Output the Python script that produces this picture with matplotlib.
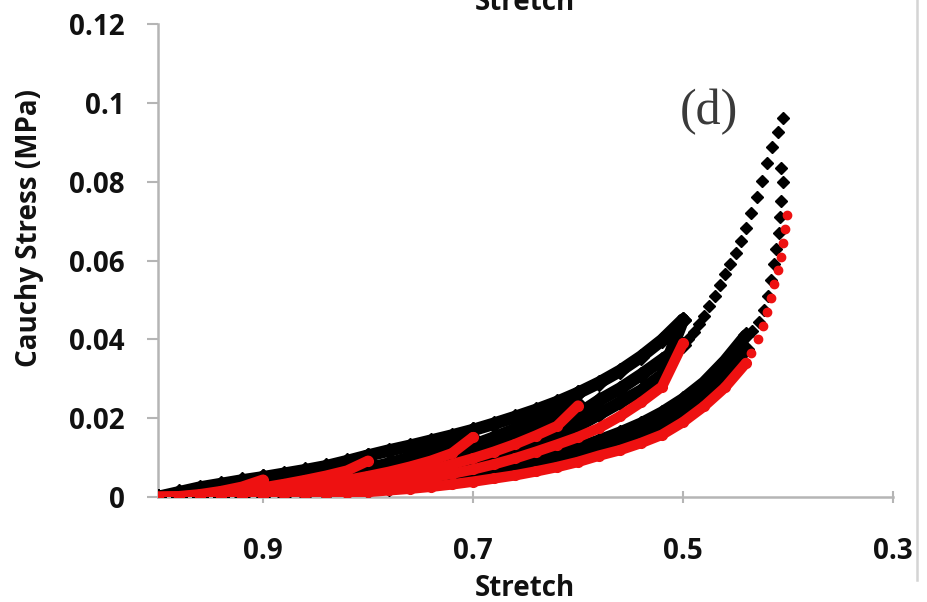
import matplotlib
matplotlib.use('Agg')
import matplotlib.pyplot as plt
from matplotlib.lines import Line2D

plt.rcParams['font.family'] = ['Open Sans', 'DejaVu Sans']
plt.rcParams['font.weight'] = 'bold'

# stretch of the recorded points, from the unloaded state down to 0.40
stretch = [1.00, 0.98, 0.96, 0.94, 0.92, 0.90, 0.88, 0.86, 0.84, 0.82,
           0.80, 0.78, 0.76, 0.74, 0.72, 0.70, 0.68, 0.66, 0.64, 0.62,
           0.60, 0.58, 0.56, 0.54, 0.52, 0.50, 0.48, 0.46, 0.44, 0.42, 0.40]

# experiment (black): primary loading curve up to stretch 0.5
load_env = [0.0000, 0.0012, 0.0024, 0.0033, 0.0042, 0.0050, 0.0059, 0.0068, 0.0078, 0.0091,
            0.0105, 0.0118, 0.0130, 0.0143, 0.0156, 0.0170, 0.0186, 0.0203, 0.0221, 0.0241,
            0.0264, 0.0290, 0.0320, 0.0356, 0.0398, 0.0450]

# last loading past 0.5 (recorded every 0.005)
tail_stretch = [0.500, 0.495, 0.490, 0.485, 0.480, 0.475, 0.470, 0.465, 0.460, 0.455,
                0.450, 0.445, 0.440, 0.435, 0.430, 0.425, 0.420, 0.415, 0.410, 0.405]
tail_stress = [0.0385, 0.0400, 0.0418, 0.0438, 0.0460, 0.0485, 0.0510, 0.0537, 0.0565, 0.0592,
               0.0620, 0.0650, 0.0683, 0.0720, 0.0760, 0.0803, 0.0848, 0.0888, 0.0927, 0.0962]

# reloading paths, listed from stretch 1.0 up to the previous peak
reload_2 = [0.0000, 0.0007, 0.0016, 0.0027, 0.0037, 0.0044]
reload_3 = [0.0000, 0.0004, 0.0010, 0.0018, 0.0027, 0.0037, 0.0047, 0.0058, 0.0070, 0.0084,
            0.0094]
reload_4 = [0.0000, 0.0002, 0.0005, 0.0010, 0.0016, 0.0023, 0.0031, 0.0039, 0.0049, 0.0060,
            0.0072, 0.0085, 0.0100, 0.0117, 0.0135, 0.0150]
reload_5 = [0.0000, 0.0002, 0.0004, 0.0007, 0.0011, 0.0016, 0.0022, 0.0029, 0.0037, 0.0046,
            0.0057, 0.0069, 0.0082, 0.0097, 0.0113, 0.0131, 0.0151, 0.0172, 0.0196, 0.0222,
            0.0235]
reload_6 = [0.0000, 0.0001, 0.0002, 0.0003, 0.0006, 0.0009, 0.0013, 0.0018, 0.0024, 0.0031,
            0.0038, 0.0047, 0.0057, 0.0068, 0.0081, 0.0096, 0.0112, 0.0131, 0.0153, 0.0178,
            0.0210, 0.0245, 0.0275, 0.0310, 0.0348, 0.0385]

# unloading paths (black), listed from stretch 1.0 up to the peak
unload_1 = [0.0000, 0.0004, 0.0011, 0.0021, 0.0033, 0.0050]
unload_2 = [0.0000, 0.0003, 0.0008, 0.0014, 0.0022, 0.0031, 0.0041, 0.0052, 0.0064, 0.0078,
            0.0105]
unload_3 = [0.0000, 0.0001, 0.0004, 0.0008, 0.0013, 0.0019, 0.0025, 0.0033, 0.0042, 0.0052,
            0.0063, 0.0075, 0.0089, 0.0105, 0.0125, 0.0170]
unload_4 = [0.0000, 0.0001, 0.0002, 0.0005, 0.0008, 0.0012, 0.0017, 0.0023, 0.0030, 0.0038,
            0.0047, 0.0057, 0.0069, 0.0082, 0.0097, 0.0114, 0.0133, 0.0154, 0.0178, 0.0205,
            0.0264]
unload_5 = [0.0000, 0.0000, 0.0001, 0.0003, 0.0005, 0.0008, 0.0011, 0.0015, 0.0020, 0.0026,
            0.0032, 0.0040, 0.0048, 0.0058, 0.0069, 0.0082, 0.0096, 0.0113, 0.0132, 0.0154,
            0.0180, 0.0210, 0.0240, 0.0270, 0.0310, 0.0450]
unload_6 = [0.0000, 0.0000, 0.0001, 0.0002, 0.0004, 0.0006, 0.0008, 0.0011, 0.0014, 0.0018,
            0.0022, 0.0028, 0.0034, 0.0041, 0.0049, 0.0058, 0.0068, 0.0079, 0.0092, 0.0107,
            0.0124, 0.0143, 0.0163, 0.0186, 0.0214, 0.0248, 0.0290, 0.0345, 0.0410]
# repeated unloading from stretch 0.4
unload_6b = [0.0000, 0.0000, 0.0000, 0.0001, 0.0003, 0.0004, 0.0006, 0.0008, 0.0010, 0.0014,
             0.0017, 0.0022, 0.0027, 0.0033, 0.0040, 0.0048, 0.0057, 0.0067, 0.0078, 0.0091,
             0.0106, 0.0124, 0.0141, 0.0161, 0.0186, 0.0219, 0.0260, 0.0311, 0.0375]
# first part of the last unloading, right after the peak
drop_stretch = [0.407, 0.405, 0.407, 0.408, 0.409, 0.411, 0.413, 0.416, 0.419, 0.423,
                0.428, 0.434]
drop_stress = [0.0835, 0.0800, 0.0750, 0.0710, 0.0670, 0.0630, 0.0590, 0.0550, 0.0510, 0.0475,
               0.0445, 0.0420]

# model (red): unloading from each peak
model_1 = [0.0000, 0.0002, 0.0007, 0.0015, 0.0026, 0.0044]
model_2 = [0.0000, 0.0001, 0.0005, 0.0010, 0.0016, 0.0024, 0.0033, 0.0043, 0.0054, 0.0067,
           0.0092]
model_3 = [0.0000, 0.0001, 0.0002, 0.0005, 0.0009, 0.0014, 0.0019, 0.0026, 0.0034, 0.0043,
           0.0053, 0.0064, 0.0077, 0.0092, 0.0111, 0.0152]
model_4 = [0.0000, 0.0000, 0.0001, 0.0003, 0.0005, 0.0008, 0.0012, 0.0017, 0.0023, 0.0030,
           0.0038, 0.0047, 0.0057, 0.0069, 0.0083, 0.0098, 0.0115, 0.0134, 0.0156, 0.0180,
           0.0232]
model_5 = [0.0000, 0.0000, 0.0001, 0.0002, 0.0004, 0.0006, 0.0009, 0.0012, 0.0016, 0.0021,
           0.0026, 0.0033, 0.0040, 0.0049, 0.0059, 0.0070, 0.0083, 0.0098, 0.0115, 0.0133,
           0.0152, 0.0175, 0.0205, 0.0240, 0.0280, 0.0390]
model_6 = [0.0000, 0.0000, 0.0000, 0.0001, 0.0002, 0.0003, 0.0004, 0.0005, 0.0007, 0.0010,
           0.0013, 0.0017, 0.0021, 0.0026, 0.0032, 0.0039, 0.0047, 0.0055, 0.0065, 0.0076,
           0.0089, 0.0105, 0.0119, 0.0137, 0.0158, 0.0190, 0.0230, 0.0278, 0.0340]
model_drop_stretch = [0.401, 0.403, 0.405, 0.407, 0.410, 0.413, 0.416, 0.420, 0.424, 0.429,
                      0.435]
model_drop_stress = [0.0715, 0.0680, 0.0645, 0.0610, 0.0575, 0.0540, 0.0505, 0.0470, 0.0435,
                     0.0400, 0.0365]

BLACK = '#000000'
RED = '#ee1111'

fig = plt.figure(figsize=(9.28, 6.02), dpi=100)
ax = fig.add_axes([0.1703, 0.1744, 0.7920, 0.7857])


def band(y, color, marker, lw, ms):
    s = stretch[:len(y)]
    ax.plot(s, y, color=color, lw=lw, marker=marker, ms=ms, mec=color, mfc=color,
            solid_capstyle='round', solid_joinstyle='round')


# experiment
band(load_env, BLACK, 'D', 9, 8.5)
for y in [reload_2, reload_3, reload_4, reload_5, reload_6]:
    band(y, BLACK, 'D', 9, 8.5)
for y in [unload_1, unload_2, unload_3, unload_4, unload_5, unload_6, unload_6b]:
    band(y, BLACK, 'D', 9, 8.5)
ax.plot(tail_stretch, tail_stress, ls='none', marker='D', ms=6, color=BLACK)
ax.plot(drop_stretch, drop_stress, ls='none', marker='D', ms=6, color=BLACK)

# model
for y in [model_1, model_2, model_3, model_4, model_5, model_6]:
    band(y, RED, 'o', 7.5, 7)
ax.plot(model_drop_stretch, model_drop_stress, ls='none', marker='o', ms=6, color=RED)

ax.set_xlim(1.0, 0.3)
ax.set_ylim(0, 0.12)
ax.set_xticks([0.9, 0.7, 0.5, 0.3])
ax.set_xticklabels(['0.9', '0.7', '0.5', '0.3'])
ax.set_yticks([0, 0.02, 0.04, 0.06, 0.08, 0.1, 0.12])
ax.set_yticklabels(['0', '0.02', '0.04', '0.06', '0.08', '0.1', '0.12'])

axis_grey = '#b5b5b5'
for side in ['top', 'right']:
    ax.spines[side].set_visible(False)
for side in ['left', 'bottom']:
    ax.spines[side].set_color(axis_grey)
    ax.spines[side].set_linewidth(1.8)
    ax.spines[side].set_zorder(0)
ax.tick_params(axis='y', direction='out', length=8, width=1.5, color=axis_grey,
               pad=16, labelsize=20)
ax.tick_params(axis='x', direction='inout', length=8, width=1.5, color=axis_grey,
               pad=25, labelsize=20)
for lab in ax.get_xticklabels() + ax.get_yticklabels():
    lab.set_fontweight('bold')
    lab.set_color('#111111')

fig.text(0.032, 0.621, 'Cauchy Stress (MPa)', rotation=90, ha='center', va='center',
         fontsize=20, fontweight='bold', color='#111111')
fig.text(0.566, 0.023, 'Stretch', ha='center', va='center', fontsize=20,
         fontweight='bold', color='#111111')
# label of the panel above, cut by the figure edge
fig.text(0.566, 0.984, 'Stretch', ha='center', va='baseline', fontsize=20,
         fontweight='bold', color='#111111')
ax.text(0.475, 0.0977, '(d)', ha='center', va='center', fontsize=36,
        family='Liberation Serif', fontweight='normal', color='#3a3a3a')

fig.add_artist(Line2D([0.988, 0.988], [0.036, 1.0], transform=fig.transFigure,
                      color='#d4d4d4', lw=1.8))

fig.savefig('out.png', dpi=100)
